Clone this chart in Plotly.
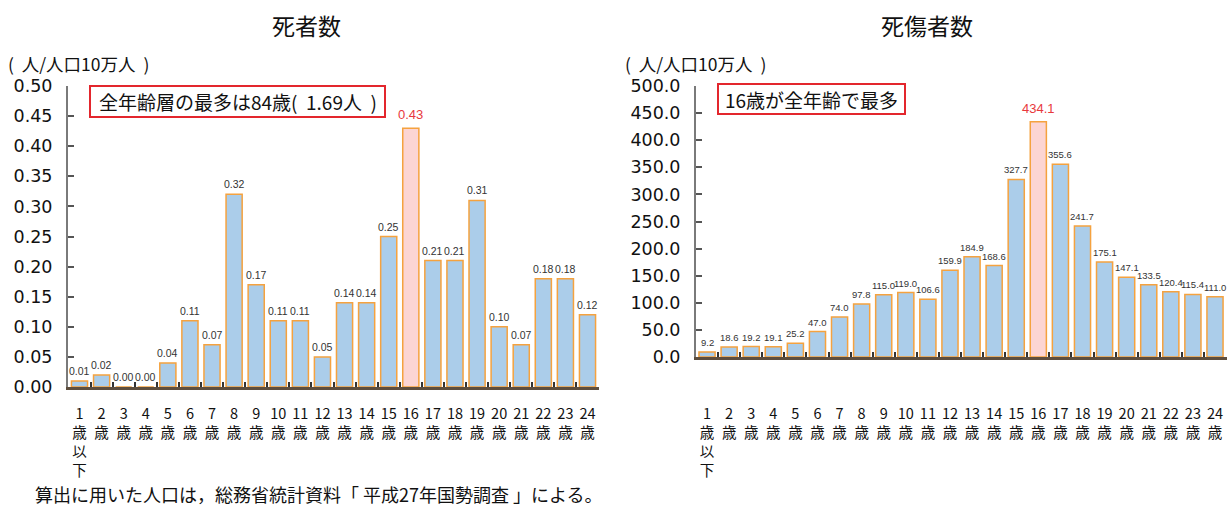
import plotly.graph_objects as go

W, H = 1230, 508

# Age categories (tick labels are stacked vertically)
age_labels = [
    "1<br>歳<br>以<br>下", "2<br>歳", "3<br>歳", "4<br>歳", "5<br>歳", "6<br>歳",
    "7<br>歳", "8<br>歳", "9<br>歳", "10<br>歳", "11<br>歳", "12<br>歳",
    "13<br>歳", "14<br>歳", "15<br>歳", "16<br>歳", "17<br>歳", "18<br>歳",
    "19<br>歳", "20<br>歳", "21<br>歳", "22<br>歳", "23<br>歳", "24<br>歳",
]

# Deaths per 100,000 population
deaths = [0.01, 0.02, 0.00, 0.00, 0.04, 0.11, 0.07, 0.32, 0.17, 0.11, 0.11, 0.05,
          0.14, 0.14, 0.25, 0.43, 0.21, 0.21, 0.31, 0.10, 0.07, 0.18, 0.18, 0.12]

# Casualties (deaths + injuries) per 100,000 population
casualties = [9.2, 18.6, 19.2, 19.1, 25.2, 47.0, 74.0, 97.8, 115.0, 119.0, 106.6, 159.9,
              184.9, 168.6, 327.7, 434.1, 355.6, 241.7, 175.1, 147.1, 133.5, 120.4, 115.4, 111.0]

peak_label = "16<br>歳"

left_ticks = [0.00, 0.05, 0.10, 0.15, 0.20, 0.25, 0.30, 0.35, 0.40, 0.45, 0.50]
right_ticks = [0, 50, 100, 150, 200, 250, 300, 350, 400, 450, 500]

BLUE = "#abcdea"
PINK = "#fcd5d3"
EDGE = "#f5a23f"
RED_TXT = "#e8383d"
CJK = "Noto Sans CJK JP"
NUM = "DejaVu Sans"
LABEL = "Liberation Sans"


def px_x(p):
    return p / W


def px_y(p):
    return 1 - p / H


fig = go.Figure()


def add_panel(values, xa, ya, fmt, base_size, peak_size):
    fills = [PINK if a == peak_label else BLUE for a in age_labels]
    fig.add_trace(go.Bar(
        x=age_labels, y=values, xaxis=xa, yaxis=ya,
        marker=dict(color=fills, line=dict(color=EDGE, width=1.5)),
        showlegend=False, hoverinfo="skip",
    ))
    # value labels sitting above each bar
    for a, v in zip(age_labels, values):
        peak = a == peak_label
        fig.add_annotation(
            x=a, y=v, xref=xa, yref=ya, text=fmt.format(v),
            showarrow=False, xanchor="center", yanchor="bottom",
            yshift=5 if peak else 3, borderpad=0,
            font=dict(family=LABEL, size=peak_size if peak else base_size,
                      color=RED_TXT if peak else "#333333"),
        )


add_panel(deaths, "x", "y", "{:.2f}", 10.5, 13)
add_panel(casualties, "x2", "y2", "{:.1f}", 9.5, 13)

xcommon = dict(
    type="category", tickson="boundaries", ticks="inside", ticklen=5,
    tickcolor="#333333", tickwidth=1.5, showline=True, linecolor="#5e4e3e",
    linewidth=2.5, showgrid=False, zeroline=False, tickangle=0,
    automargin=False,
    tickfont=dict(family=CJK, size=14.5, color="#111111"),
)
ycommon = dict(
    ticks="inside", ticklen=6, tickcolor="#555555", tickwidth=1.5,
    showline=True, linecolor="#7a7a7a", linewidth=2, showgrid=False,
    zeroline=False, automargin=False,
    tickfont=dict(family=NUM, size=17.5, color="#111111"),
)

fig.update_layout(
    width=W, height=H, margin=dict(l=0, r=0, t=0, b=0, autoexpand=False),
    paper_bgcolor="white", plot_bgcolor="white", bargap=0.27,
    xaxis=dict(xcommon, domain=[px_x(68), px_x(599)], anchor="y",
               ticklabelstandoff=12),
    yaxis=dict(ycommon, domain=[px_y(387), px_y(86)], anchor="x",
               range=[0, 0.5], tickvals=left_ticks,
               ticktext=["{:.2f}".format(t) for t in left_ticks],
               ticklabelstandoff=10),
    xaxis2=dict(xcommon, domain=[px_x(696), px_x(1227)], anchor="y2",
                ticklabelstandoff=42),
    yaxis2=dict(ycommon, domain=[px_y(357), px_y(86)], anchor="x2",
                range=[0, 500], tickvals=right_ticks,
                ticktext=["{:.1f}".format(t) for t in right_ticks],
                ticklabelstandoff=10),
)

# Panel titles and unit captions
texts = [
    ("死者数", 306, 25, "center", 23),
    ("死傷者数", 927, 25, "center", 23),
    ("(  人/人口10万人  )", 6, 63, "left", 17.5),
    ("(  人/人口10万人  )", 623, 63, "left", 17.5),
    ("算出に用いた人口は，総務省統計資料「 平成27年国勢調査 」による。", 33, 494, "left", 18),
]
for t, x, y, anchor, size in texts:
    fig.add_annotation(
        text=t, x=px_x(x), y=px_y(y), xref="paper", yref="paper",
        xanchor=anchor, yanchor="middle", showarrow=False,
        font=dict(family=CJK, size=size, color="#111111"),
    )

# Callout boxes
boxes = [
    ("全年齢層の最多は84歳(  1.69人  )", 90, 86, 385, 117),
    ("16歳が全年齢で最多", 718, 84, 905, 114),
]
for t, x0, y0, x1, y1 in boxes:
    fig.add_shape(type="rect", xref="paper", yref="paper",
                  x0=px_x(x0), x1=px_x(x1), y0=px_y(y1), y1=px_y(y0),
                  line=dict(color="#e3262d", width=2), fillcolor="white")
    fig.add_annotation(
        text=t, x=px_x((x0 + x1) / 2), y=px_y((y0 + y1) / 2),
        xref="paper", yref="paper", xanchor="center", yanchor="middle",
        showarrow=False, font=dict(family=CJK, size=19, color="#111111"),
    )

fig.write_html("out.html")
